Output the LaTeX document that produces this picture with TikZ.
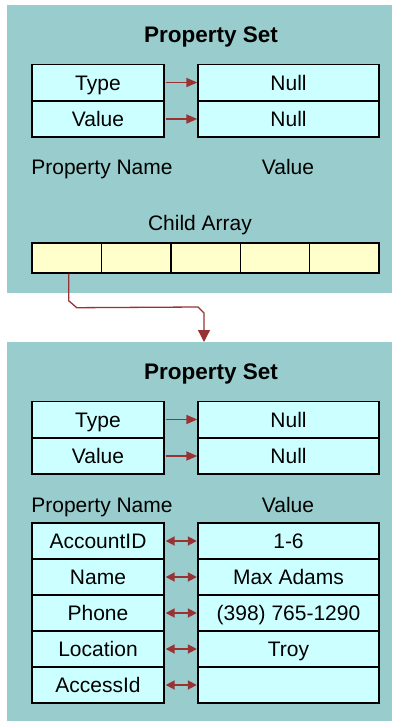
\documentclass[tikz,border=0pt]{standalone}
\usepackage{fontspec}
\setmainfont{Liberation Sans}
\usetikzlibrary{arrows.meta}
\definecolor{panel}{HTML}{99CCCC}
\definecolor{cellc}{HTML}{CCFFFF}
\definecolor{yel}{HTML}{FFFFCC}
\definecolor{arr}{HTML}{993333}
\begin{document}
\begin{tikzpicture}[x=1pt,y=-1pt,
  panelbox/.style={fill=panel, draw=none},
  lbl/.style={font=\fontsize{21}{24}\selectfont, inner sep=0pt, text height=15pt, text depth=0pt},
  ttl/.style={font=\fontsize{22.5}{26}\selectfont\bfseries, inner sep=0pt, text height=16pt, text depth=0pt},
  lcell/.style={draw=black, line width=1.4pt, fill=cellc, minimum width=132pt, minimum height=36pt, inner sep=0pt, text height=15pt, text depth=0pt, font=\fontsize{21}{24}\selectfont},
  rcell/.style={draw=black, line width=1.4pt, fill=cellc, minimum width=181pt, minimum height=36pt, inner sep=0pt, text height=15pt, text depth=0pt, font=\fontsize{21}{24}\selectfont},
  acell/.style={draw=black, line width=1.4pt, fill=yel, minimum width=69.4pt, minimum height=30pt, inner sep=0pt},
  onearrow/.style={draw=arr, line width=1.8pt, -{Triangle[width=9pt,length=11pt]}, shorten <=1pt},
  twoarrow/.style={draw=arr, line width=1.8pt, {Triangle[width=9pt,length=9pt]}-{Triangle[width=9pt,length=9pt]}, shorten <=1pt, shorten >=0.5pt},
  conn/.style={draw=arr, line width=1.3pt, -{Triangle[width=12pt,length=12pt]}}
]
\useasboundingbox (0,0) rectangle (396,721);
% panels
\fill[panelbox] (7,5) rectangle (392,293);
\fill[panelbox] (7,342) rectangle (392,721);

% ---- top panel
\node[ttl] (title1) at (211,34) {Property Set};
\node[lcell] (t1) at (98,82.5) {Type};
\node[lcell] (v1) at (98,119) {Value};
\node[rcell] (tn1) at (288.5,82.5) {Null};
\node[rcell] (vn1) at (288.5,119) {Null};
\draw[onearrow] (t1.east) -- (tn1.west);
\draw[onearrow] (v1.east) -- (vn1.west);
\node[lbl] (pn1) at (102,167) {Property Name};
\node[lbl] (val1) at (288,167) {Value};
\node[lbl] (ca) at (200,223) {Child Array};
\foreach \i in {0,...,4} {
  \node[acell] (c\i) at ({32+34.7+69.4*\i},258) {};
}

% ---- bottom panel
\coordinate (top2) at (204,342);
\draw[conn] ([xshift=2pt]c0.south) -- ++(0,27) -- ++(8,7) -- (198,307) -- (204,313) -- (top2);

\node[ttl] (title2) at (211,371) {Property Set};
\node[lcell] (t2) at (98,419.5) {Type};
\node[lcell] (v2) at (98,456) {Value};
\node[rcell] (tn2) at (288.5,419.5) {Null};
\node[rcell] (vn2) at (288.5,456) {Null};
\draw[onearrow] (t2.east) -- (tn2.west);
\draw[onearrow] (v2.east) -- (vn2.west);
\node[lbl] (pn2) at (102,505) {Property Name};
\node[lbl] (val2) at (288,505) {Value};

\node[lcell] (k1) at (98,541) {AccountID};
\node[lcell] (k2) at (98,577) {Name};
\node[lcell] (k3) at (98,613) {Phone};
\node[lcell] (k4) at (98,649) {Location};
\node[lcell] (k5) at (98,685) {AccessId};
\node[rcell] (w1) at (288.5,541) {1-6};
\node[rcell] (w2) at (288.5,577) {Max Adams};
\node[rcell] (w3) at (288.5,613) {(398) 765-1290};
\node[rcell] (w4) at (288.5,649) {Troy};
\node[rcell] (w5) at (288.5,685) {};
\foreach \i in {1,...,5} {
  \draw[twoarrow] (k\i.east) -- (w\i.west);
}
\end{tikzpicture}
\end{document}
